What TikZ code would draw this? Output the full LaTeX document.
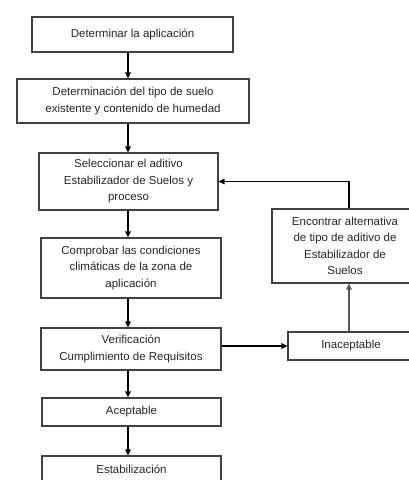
\documentclass[tikz,border=0pt]{standalone}
\usepackage{fontspec}
\setmainfont{Liberation Sans}
\usetikzlibrary{arrows.meta}
\begin{document}
\begin{tikzpicture}[x=1pt,y=-1pt,
  box/.style={draw=black!75,line width=1.1pt,fill=white,align=center,inner sep=0pt,
    font=\fontsize{11.5}{16.5}\selectfont,text=black!85},
  arr/.style={draw=black,line width=1.2pt,-{Triangle[length=6pt,width=5.5pt]}}]
\useasboundingbox (0,0) rectangle (409,480);
\clip (0,0) rectangle (409,480);
\fill[white] (0,0) rectangle (409,480);
\coordinate (spine) at (128,0);
\coordinate (side) at (349,0);
\node[box,minimum width=201pt,minimum height=35pt] (b1) at (132.5,34.5) {Determinar la aplicación};
\node[box,minimum width=232pt,minimum height=44pt] (b2) at (133,101) {Determinación del tipo de suelo\\existente y contenido de humedad};
\node[box,minimum width=179pt,minimum height=57pt] (b3) at (128.5,181.5) {Seleccionar el aditivo\\Estabilizador de Suelos y\\proceso};
\node[box,minimum width=180pt,minimum height=60pt] (b4) at (131,268) {Comprobar las condiciones\\climáticas de la zona de\\aplicación};
\node[box,minimum width=180pt,minimum height=42pt] (b5) at (131,349) {Verificación\\Cumplimiento de Requisitos};
\node[box,minimum width=179pt,minimum height=28pt] (b6) at (131.5,412) {Aceptable};
\node[box,minimum width=179pt,minimum height=26pt] (b7) at (131.5,469) {Estabilización};
\node[box,minimum width=146pt,minimum height=74pt] (enc) at (345,246) {Encontrar alternativa\\de tipo de aditivo de\\Estabilizador de\\Suelos};
\node[box,minimum width=126pt,minimum height=28pt] (inac) at (351,346) {Inaceptable};
\draw[arr] (b1.south -| spine) -- (b2.north -| spine);
\draw[arr] (b2.south -| spine) -- (b3.north -| spine);
\draw[arr] (b3.south -| spine) -- (b4.north -| spine);
\draw[arr] (b4.south -| spine) -- (b5.north -| spine);
\draw[arr] (b5.south -| spine) -- (b6.north -| spine);
\draw[arr] (b6.south -| spine) -- (b7.north -| spine);
\draw[arr] (b5.east |- inac.west) -- (inac.west);
\draw[arr,draw=black!65] (inac.north -| side) -- (enc.south -| side);
\draw[arr] (enc.north -| side) |- (b3.east);
\end{tikzpicture}
\end{document}
